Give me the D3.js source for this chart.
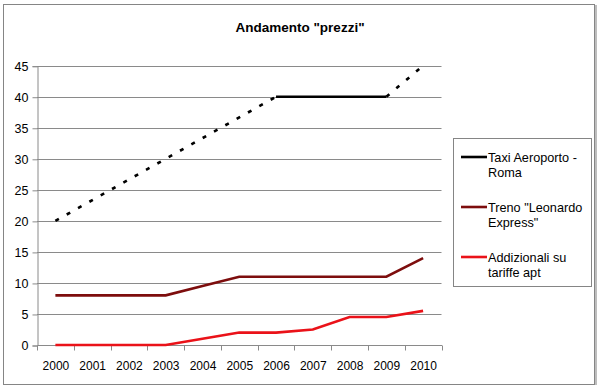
<!DOCTYPE html>
<html>
<head>
<meta charset="utf-8">
<script src="https://cdn.jsdelivr.net/npm/d3@7"></script>
<style>
  body { margin: 0; background: #fff; }
  svg { display: block; font-family: "Liberation Sans", Arial, sans-serif; }
</style>
</head>
<body>
<div id="chart"></div>
<script>
// data
const years = ['2000', '2001', '2002', '2003', '2004', '2005', '2006', '2007', '2008', '2009', '2010'];
const taxi = [20, null, null, null, null, null, 40, 40, 40, 40, 45];
const taxiDashedFrom = ['2009']; // segments starting here are drawn dashed (gaps are dashed too)
const treno = [8, 8, 8, 8, 9.5, 11, 11, 11, 11, 11, 14];
const addizionali = [0, 0, 0, 0, 1, 2, 2, 2.5, 4.5, 4.5, 5.5];
const yTicks = [0, 5, 10, 15, 20, 25, 30, 35, 40, 45];
const seriesNames = ['Taxi Aeroporto -|Roma', 'Treno "Leonardo|Express"', 'Addizionali su|tariffe apt'];
const seriesColors = ['#000000', '#7d0d0d', '#ea1219'];

const svg = d3.select('#chart').append('svg')
  .attr('width', 600)
  .attr('height', 389);

// outer frame
svg.append('rect')
  .attr('x', 3.5).attr('y', 4.5)
  .attr('width', 591).attr('height', 380)
  .attr('fill', '#fff')
  .attr('stroke', '#858585');
svg.append('line')
  .attr('x1', 596).attr('x2', 596).attr('y1', 5).attr('y2', 385)
  .attr('stroke', '#bdbdbd').attr('stroke-width', 2);

// title
svg.append('text')
  .attr('x', 300).attr('y', 32)
  .attr('text-anchor', 'middle')
  .attr('font-size', 13.5)
  .attr('font-weight', 'bold')
  .text('Andamento "prezzi"');

// scales
const xScale = d3.scaleBand()
  .domain(years)
  .range([37, 441.5])
  .padding(0);

const yScale = d3.scaleLinear()
  .domain([0, 45])
  .range([345, 65.7]);

const cx = d => xScale(d) + xScale.bandwidth() / 2;

// gridlines
svg.append('g')
  .selectAll('line')
  .data(yTicks.filter(t => t > 0))
  .enter()
  .append('line')
  .attr('x1', 37).attr('x2', 441.5)
  .attr('y1', d => Math.round(yScale(d)) + 0.5)
  .attr('y2', d => Math.round(yScale(d)) + 0.5)
  .attr('stroke', '#8a8a8a');

// y axis
const yAxis = svg.append('g')
  .attr('transform', 'translate(37.5, 0.5)')
  .call(d3.axisLeft(yScale).tickValues(yTicks).tickSize(5).tickPadding(4));
yAxis.selectAll('line, path').attr('stroke', '#8a8a8a');
yAxis.selectAll('text').attr('font-size', 12.5).attr('fill', '#000')
  .attr('font-family', '"Liberation Sans", Arial, sans-serif');

// x axis with ticks between categories
const xAxis = svg.append('g')
  .attr('transform', 'translate(0.5, 345.5)');
xAxis.append('line')
  .attr('x1', 37).attr('x2', 441.5)
  .attr('stroke', '#8a8a8a');
xAxis.selectAll('.tk')
  .data(years.concat(['end']))
  .enter()
  .append('line')
  .attr('class', 'tk')
  .attr('x1', d => Math.round(d === 'end' ? 441.5 : xScale(d)))
  .attr('x2', d => Math.round(d === 'end' ? 441.5 : xScale(d)))
  .attr('y1', 0).attr('y2', 5)
  .attr('stroke', '#8a8a8a');
xAxis.selectAll('text')
  .data(years)
  .enter()
  .append('text')
  .attr('x', d => cx(d))
  .attr('y', 24)
  .attr('text-anchor', 'middle')
  .attr('font-size', 12)
  .text(d => d);

const line = d3.line()
  .x(d => cx(d.year))
  .y(d => yScale(d.value));

// taxi: split into solid and dashed pieces
const taxiPts = years.map((y, i) => ({ year: y, value: taxi[i], idx: i })).filter(d => d.value !== null);
const pieces = [];
for (let i = 0; i < taxiPts.length - 1; i++) {
  const a = taxiPts[i], b = taxiPts[i + 1];
  const dashed = (b.idx - a.idx > 1) || taxiDashedFrom.includes(a.year);
  const last = pieces[pieces.length - 1];
  if (last && last.dashed === dashed && !dashed) {
    last.pts.push(b);
  } else {
    pieces.push({ dashed, pts: [a, b] });
  }
}
svg.append('g')
  .selectAll('path')
  .data(pieces)
  .enter()
  .append('path')
  .attr('d', d => line(d.pts))
  .attr('fill', 'none')
  .attr('stroke', seriesColors[0])
  .attr('stroke-width', 2.6)
  .attr('stroke-dasharray', d => d.dashed ? '4,9' : null);

// other series
[treno, addizionali].forEach((vals, k) => {
  svg.append('path')
    .datum(years.map((y, i) => ({ year: y, value: vals[i] })))
    .attr('d', line)
    .attr('fill', 'none')
    .attr('stroke', seriesColors[k + 1])
    .attr('stroke-width', 2.6);
});

// legend
const legend = svg.append('g');
legend.append('rect')
  .attr('x', 453.5).attr('y', 138.5)
  .attr('width', 138).attr('height', 148)
  .attr('fill', '#fff')
  .attr('stroke', '#858585');

const entries = legend.selectAll('g.entry')
  .data(seriesNames)
  .enter()
  .append('g')
  .attr('class', 'entry')
  .attr('transform', (d, i) => `translate(0, ${157 + i * 50})`);

entries.append('line')
  .attr('x1', 461).attr('x2', 487)
  .attr('stroke', (d, i) => seriesColors[i])
  .attr('stroke-width', 2.6);

entries.append('text')
  .attr('x', 488)
  .attr('font-size', 12.7)
  .selectAll('tspan')
  .data(d => d.split('|'))
  .enter()
  .append('tspan')
  .attr('x', 488)
  .attr('y', (d, i) => 4.5 + i * 15)
  .text(d => d);
</script>
</body>
</html>
